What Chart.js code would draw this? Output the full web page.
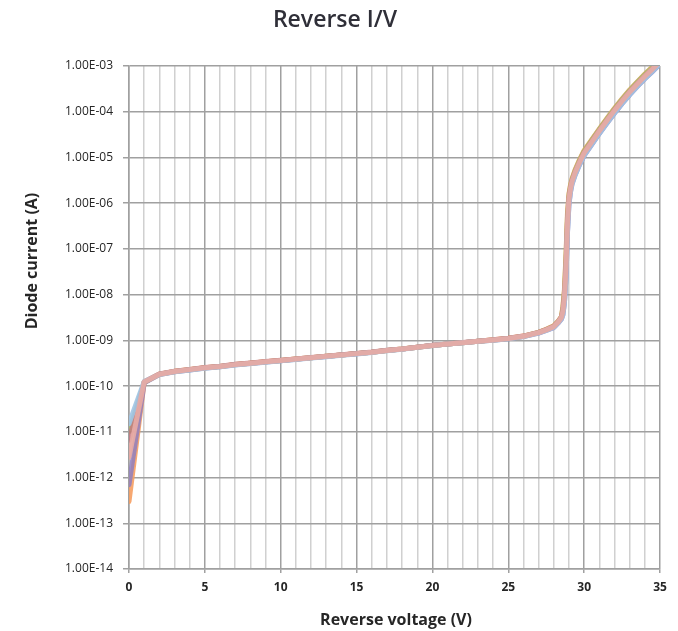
<!DOCTYPE html>
<html>
<head>
<meta charset="utf-8">
<script src="https://cdn.jsdelivr.net/npm/chart.js@4.4.1/dist/chart.umd.min.js"></script>
<style>
  html, body { margin: 0; padding: 0; background: #ffffff; }
  #wrap { width: 678px; height: 631px; position: relative; }
</style>
</head>
<body>
<div id="wrap"><canvas id="c" width="678" height="631"></canvas></div>
<script>
// ---- data ----
const TITLE = "Reverse I/V";
const X_TITLE = "Reverse voltage (V)";
const Y_TITLE = "Diode current (A)";

const voltage = [0,1,2,3,4,5,6,7,8,9,10,11,12,13,14,15,16,17,18,19,20,21,22,23,24,25,26,27,27.5,28,28.3,28.5,28.6,28.7,28.8,28.9,29,29.1,29.2,29.4,29.7,30,30.5,31,31.5,32,32.5,33,33.5,34,34.5,35];

const yTickValues = [1e-14,1e-13,1e-12,1e-11,1e-10,1e-9,1e-8,1e-7,1e-6,1e-5,1e-4,1e-3];

const seriesPink = [2.8e-12,1.23e-10,1.82e-10,2.09e-10,2.29e-10,2.51e-10,2.69e-10,2.95e-10,3.16e-10,3.39e-10,3.63e-10,3.89e-10,4.17e-10,4.47e-10,4.79e-10,5.13e-10,5.50e-10,6.03e-10,6.46e-10,7.08e-10,7.76e-10,8.32e-10,8.91e-10,9.55e-10,1.02e-9,1.10e-9,1.23e-9,1.48e-9,1.70e-9,2.00e-9,2.55e-9,3.16e-9,4.37e-9,8.91e-9,3.55e-8,3.55e-7,1.26e-6,2.09e-6,3.02e-6,4.68e-6,7.94e-6,1.26e-5,2.19e-5,3.80e-5,6.40e-5,1.07e-4,1.72e-4,2.70e-4,4.05e-4,5.95e-4,8.55e-4,1.26e-3];

const seriesBlue = [1.5e-11,1.26e-10,1.80e-10,2.05e-10,2.25e-10,2.46e-10,2.64e-10,2.90e-10,3.10e-10,3.32e-10,3.56e-10,3.82e-10,4.10e-10,4.40e-10,4.72e-10,5.06e-10,5.44e-10,5.96e-10,6.40e-10,7.02e-10,7.70e-10,8.28e-10,8.87e-10,9.50e-10,1.01e-9,1.09e-9,1.21e-9,1.45e-9,1.66e-9,1.92e-9,2.45e-9,2.95e-9,3.70e-9,6.60e-9,2.30e-8,2.30e-7,9.60e-7,1.78e-6,2.65e-6,4.15e-6,7.05e-6,1.11e-5,1.93e-5,3.35e-5,5.65e-5,9.40e-5,1.52e-4,2.38e-4,3.60e-4,5.30e-4,7.65e-4,1.12e-3];

const seriesRed = [6.5e-12,1.24e-10,1.84e-10,2.12e-10,2.32e-10,2.55e-10,2.73e-10,2.99e-10,3.20e-10,3.43e-10,3.67e-10,3.93e-10,4.21e-10,4.51e-10,4.83e-10,5.17e-10,5.54e-10,6.07e-10,6.50e-10,7.12e-10,7.80e-10,8.36e-10,8.95e-10,9.60e-10,1.03e-9,1.11e-9,1.24e-9,1.49e-9,1.71e-9,2.02e-9,2.58e-9,3.20e-9,4.50e-9,9.50e-9,3.90e-8,3.90e-7,1.30e-6,2.12e-6,3.05e-6,4.72e-6,8.00e-6,1.27e-5,2.21e-5,3.83e-5,6.45e-5,1.08e-4,1.73e-4,2.72e-4,4.08e-4,5.99e-4,8.61e-4,1.27e-3];

const seriesGreen = [1.0e-11,1.22e-10,1.82e-10,2.09e-10,2.29e-10,2.51e-10,2.69e-10,2.95e-10,3.16e-10,3.39e-10,3.63e-10,3.89e-10,4.17e-10,4.47e-10,4.79e-10,5.13e-10,5.50e-10,6.03e-10,6.46e-10,7.08e-10,7.76e-10,8.32e-10,8.91e-10,9.55e-10,1.02e-9,1.10e-9,1.23e-9,1.49e-9,1.72e-9,2.05e-9,2.62e-9,3.25e-9,5.10e-9,1.15e-8,5.80e-8,5.00e-7,1.50e-6,2.38e-6,3.28e-6,5.10e-6,8.70e-6,1.37e-5,2.38e-5,4.12e-5,6.95e-5,1.16e-4,1.86e-4,2.92e-4,4.40e-4,6.50e-4,9.35e-4,1.37e-3];

const seriesPurple = [7.0e-13,1.18e-10,1.79e-10,2.06e-10,2.26e-10,2.48e-10,2.66e-10,2.92e-10,3.13e-10,3.36e-10,3.60e-10,3.86e-10,4.14e-10,4.44e-10,4.76e-10,5.10e-10,5.47e-10,6.00e-10,6.43e-10,7.05e-10,7.73e-10,8.29e-10,8.88e-10,9.52e-10,1.01e-9,1.09e-9,1.21e-9,1.44e-9,1.65e-9,1.90e-9,2.42e-9,2.90e-9,3.60e-9,6.50e-9,2.20e-8,2.20e-7,9.50e-7,1.75e-6,2.60e-6,4.10e-6,7.00e-6,1.10e-5,1.92e-5,3.32e-5,5.60e-5,9.30e-5,1.50e-4,2.35e-4,3.55e-4,5.25e-4,7.55e-4,1.10e-3];

const seriesOrange = [3.0e-13,1.20e-10,1.83e-10,2.10e-10,2.30e-10,2.52e-10,2.70e-10,2.96e-10,3.17e-10,3.40e-10,3.64e-10,3.90e-10,4.18e-10,4.48e-10,4.80e-10,5.14e-10,5.51e-10,6.04e-10,6.47e-10,7.09e-10,7.77e-10,8.33e-10,8.92e-10,9.56e-10,1.03e-9,1.11e-9,1.24e-9,1.50e-9,1.74e-9,2.08e-9,2.66e-9,3.30e-9,5.50e-9,1.30e-8,7.00e-8,6.00e-7,1.60e-6,2.50e-6,3.40e-6,5.30e-6,9.00e-6,1.42e-5,2.45e-5,4.22e-5,7.10e-5,1.19e-4,1.91e-4,3.00e-4,4.50e-4,6.65e-4,9.55e-4,1.40e-3];

const seriesList = [
  { name: "Pink",   values: seriesPink,   color: "rgba(230,170,164,0.95)" },
  { name: "Blue",   values: seriesBlue,   color: "rgba(160,196,228,0.9)" },
  { name: "Red",    values: seriesRed,    color: "rgba(196,110,120,0.75)" },
  { name: "Green",  values: seriesGreen,  color: "rgba(160,192,110,0.8)" },
  { name: "Purple", values: seriesPurple, color: "rgba(145,128,192,0.85)" },
  { name: "Orange", values: seriesOrange, color: "rgba(246,158,98,0.9)" }
];

// ---- helpers ----
function fmtSci(v) {
  const e = Math.round(Math.log10(v));
  const m = v / Math.pow(10, e);
  const sign = e < 0 ? "-" : "+";
  return m.toFixed(2) + "E" + sign + String(Math.abs(e)).padStart(2, "0");
}

const datasets = seriesList.map((s) => ({
  label: s.name,
  data: voltage.map((x, i) => ({ x: x, y: s.values[i] })),
  borderColor: s.color,
  backgroundColor: s.color,
  borderWidth: 5,
  pointRadius: 0,
  tension: 0,
  fill: false,
  borderCapStyle: "round",
  borderJoinStyle: "round"
}));

const MAJOR = "#a0a0a0";
const MINOR = "#d0d0d0";

const textPlugin = {
  id: "texts",
  afterDraw(chart) {
    const ctx = chart.ctx;
    ctx.save();
    ctx.fillStyle = "#2f2f38";
    ctx.textAlign = "center";
    ctx.textBaseline = "alphabetic";
    ctx.font = '600 23px "Open Sans"';
    ctx.fillText(TITLE, 335, 27);

    ctx.fillStyle = "#262626";
    ctx.font = 'bold 16px "Open Sans"';
    ctx.textBaseline = "middle";
    ctx.fillText(X_TITLE, 396, 620);

    ctx.translate(32, 261);
    ctx.rotate(-Math.PI / 2);
    ctx.fillText(Y_TITLE, 0, 0);
    ctx.restore();
  }
};

new Chart(document.getElementById("c"), {
  type: "line",
  data: { datasets: datasets },
  plugins: [textPlugin],
  options: {
    responsive: false,
    animation: false,
    devicePixelRatio: 1,
    layout: { padding: { left: 0, right: 18, top: 66, bottom: 0 } },
    plugins: {
      legend: { display: false },
      title: { display: false },
      tooltip: { enabled: false }
    },
    scales: {
      x: {
        type: "linear",
        min: 0,
        max: 35,
        afterFit(scale) { scale.height = 62; },
        ticks: {
          stepSize: 1,
          autoSkip: false,
          maxRotation: 0,
          padding: 7,
          color: "#262626",
          font: { family: "Open Sans", size: 12, weight: "bold" },
          callback: (v) => (v % 5 === 0 ? String(v) : "")
        },
        grid: {
          color: (c) => (c.tick && c.tick.value % 5 === 0 ? MAJOR : MINOR),
          lineWidth: 1.5,
          tickLength: 4,
          tickColor: (c) => (c.tick && c.tick.value % 5 === 0 ? MAJOR : "rgba(0,0,0,0)")
        },
        border: { display: true, color: MAJOR, width: 1.5 }
      },
      y: {
        type: "logarithmic",
        min: 1e-14,
        max: 1e-3,
        afterFit(scale) { scale.width = 129; },
        afterBuildTicks(scale) {
          scale.ticks = yTickValues.map((v) => ({ value: v }));
        },
        ticks: {
          padding: 10,
          color: "#262626",
          font: { family: "Open Sans", size: 12 },
          callback: (v) => fmtSci(v)
        },
        grid: {
          color: MAJOR,
          lineWidth: 1.5,
          tickLength: 6,
          tickColor: MAJOR
        },
        border: { display: true, color: MAJOR, width: 1.5 }
      }
    }
  }
});
</script>
</body>
</html>
